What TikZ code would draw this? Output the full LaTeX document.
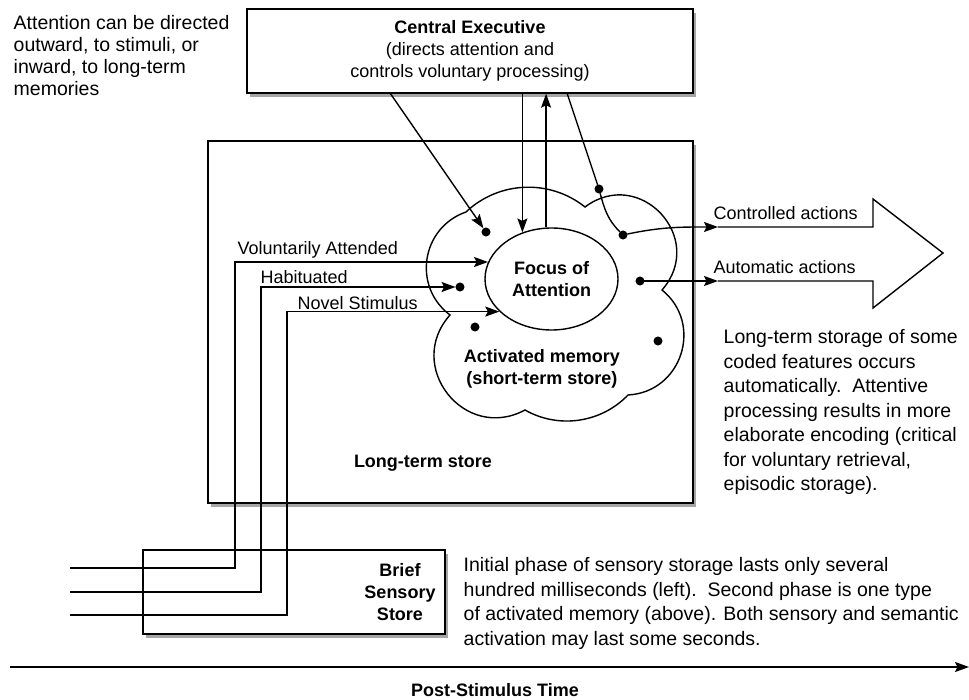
\documentclass[tikz,border=0pt]{standalone}
\usepackage{fontspec}
\setmainfont{Liberation Sans}
\usetikzlibrary{shapes.geometric, calc, arrows.meta, shadows}

\newcommand{\lblfont}{\fontsize{18}{22}\selectfont}
\newcommand{\parfont}{\fontsize{19.5}{24.5}\selectfont}

\begin{document}
\begin{tikzpicture}[x=1pt,y=-1pt,line width=1.4pt,
  >={Stealth[length=14pt,width=10pt,inset=2.5pt]},
  every node/.style={inner sep=0pt,font=\lblfont},
  box/.style={draw,fill=white,drop shadow={shadow xshift=3pt,shadow yshift=-4pt,opacity=.35,fill=black}},
  dot/.style={draw,shape=circle,fill=black,minimum size=7.5pt},
  lbl/.style={anchor=west},
  para/.style={anchor=north west,align=left,font=\parfont}]
  \useasboundingbox (0,0) rectangle (969,700);

  % stores
  \node[box,minimum width=446pt,minimum height=84pt,align=center] (ce) at (470,51)
    {\textbf{Central Executive}\\(directs attention and\\controls voluntary processing)};
  \node[box,minimum width=485pt,minimum height=362pt] (lts) at (450.5,322) {};
  \node[box,minimum width=302pt,minimum height=84pt] (bss) at (294,592) {};

  % activated memory cloud
  \path (466,212) coordinate (v1) (585,207) coordinate (v2) (662,290) coordinate (v3)
    (628,395) coordinate (v4) (525,410) coordinate (v5) (450,315) coordinate (v6);
  \draw (v1) to[bend left=41,looseness=.97] (v2) to[bend left=84,looseness=1.55] (v3)
    to[bend left=69,looseness=1.25] (v4) to[bend left=38,looseness=.95] (v5)
    to[bend left=80,looseness=1.45] (v6) to[bend left=62,looseness=1.16] (v1);

  \node[draw,ellipse,minimum width=133pt,minimum height=102pt,align=center,font=\lblfont\bfseries] (foa) at (551.5,279) {Focus of\\Attention};
  \node[align=center,font=\lblfont\bfseries] (am) at (542,369) {Activated memory\\(short-term store)};
  \node[font=\lblfont\bfseries] (ltsl) at (423,463) {Long-term store};
  \node[align=center,font=\lblfont\bfseries] (bssl) at (400,592) {Brief\\Sensory\\Store};

  \path (486,232) node[dot] (d1) {} (460,287) node[dot] (d2) {} (475,327) node[dot] (d3) {}
    (658,341) node[dot] (d4) {} (599,189) node[dot] (d5) {} (623,235) node[dot] (d6) {}
    (640,281) node[dot] (d7) {};

  % sensory input
  \path (70,568) coordinate (s1) (70,592) coordinate (s2) (70,615) coordinate (s3)
    (235,0) coordinate (k1) (261,0) coordinate (k2) (287,0) coordinate (k3);
  \draw[->] (s1) -| (k1 |- foa.165) -- (foa.165);
  \draw[->] (s2) -| (k2 |- d2) -- (d2);
  \draw[->] (s3) -| (k3 |- foa.212) -- (foa.212);
  \node[lbl] (va) at (237,250) {Voluntarily Attended};
  \node[lbl] (hb) at (260,277) {Habituated};
  \node[lbl] (ns) at (297,303) {Novel Stimulus};

  % central executive links
  \path (390,93) coordinate (c1) (567,93) coordinate (c2);
  \draw[->] (c1) -- (d1);
  \draw[->] (ce.south -| foa.122) -- (foa.122);
  \draw[->] (foa.96) -- (foa.96 |- ce.south);
  \draw (c2) -- (d5) to[out=-75,in=135] (d6);

  % actions
  \path (718,227) coordinate (ca) (718,281) coordinate (aa);
  \draw[->] (d6) to[out=12,in=180] (ca);
  \draw[->] (d7) -- (aa);
  \draw[line join=miter] (ca) -- (873,227) -- (873,199) -- (943,253) -- (873,308) -- (873,281) -- (aa);
  \node[lbl] (cal) at (713,213) {Controlled actions};
  \node[lbl] (aal) at (713,267) {Automatic actions};

  % notes
  \node[para,font=\fontsize{19.5}{22}\selectfont] (n1) at (13,15)
    {Attention can be directed\\outward, to stimuli, or\\inward, to long-term\\memories};
  \node[para] (n2) at (723,329)
    {Long-term storage of some\\coded features occurs\\automatically.\ \ Attentive\\processing results in more\\elaborate encoding (critical\\for voluntary retrieval,\\episodic storage).};
  \node[para] (n3) at (463,557)
    {Initial phase of sensory storage lasts only several\\hundred milliseconds (left).\ \ Second phase is one type\\of activated memory (above). Both sensory and semantic\\activation may last some seconds.};

  % time axis
  \path (10,667) coordinate (t0) (969,667) coordinate (t1);
  \draw[->] (t0) -- (t1);
  \node[font=\lblfont\bfseries] (pst) at (495,690) {Post-Stimulus Time};
\end{tikzpicture}
\end{document}
